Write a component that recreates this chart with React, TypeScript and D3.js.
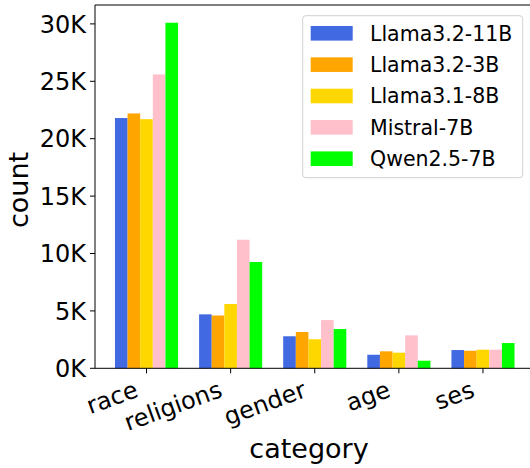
import React from "react";
import * as d3 from "d3";

const categories = ["race", "religions", "gender", "age", "ses"];
const seriesNames = ["Llama3.2-11B", "Llama3.2-3B", "Llama3.1-8B", "Mistral-7B", "Qwen2.5-7B"];
const seriesColors = ["#4169E1", "#FFA500", "#FFD700", "#FFC0CB", "#00FF00"];
const llama11b = [21800, 4700, 2790, 1180, 1590];
const llama3b = [22200, 4600, 3160, 1480, 1530];
const llama8b = [21700, 5600, 2530, 1360, 1620];
const mistral7b = [25600, 11200, 4200, 2870, 1620];
const qwen7b = [30100, 9260, 3420, 660, 2200];
const seriesValues = [llama11b, llama3b, llama8b, mistral7b, qwen7b];
const yTicks = [0, 5000, 10000, 15000, 20000, 25000, 30000];

const W = 530;
const H = 468;
const FONT = "DejaVu Sans, sans-serif";

export default function App() {
  const left = 95;
  const top = 5;
  const bottom = 368.3;
  const barW = 0.15;
  const x = d3.scaleLinear().domain([-0.6125, 4.6125]).range([left, 534.5]);
  const y = d3.scaleLinear().domain([0, 30000]).range([bottom, 23.9]);
  const fmt = (v: number) => `${d3.format("d")(v / 1000)}K`;

  return (
    <svg width={W} height={H} style={{ display: "block", position: "absolute", left: 0, top: 0 }} fontFamily={FONT}>
      <rect x={0} y={0} width={W} height={H} fill="#fff" />
      {seriesValues.map((vals, si) =>
        vals.map((v, ci) => {
          const cx = ci + (si - 2) * barW;
          const x0 = x(cx - barW / 2);
          const x1 = x(cx + barW / 2);
          return (
            <rect
              key={`${si}-${ci}`}
              x={x0}
              y={y(v)}
              width={x1 - x0}
              height={bottom - y(v)}
              fill={seriesColors[si]}
            />
          );
        })
      )}
      {/* spines */}
      <line x1={left} x2={left} y1={top} y2={bottom} stroke="#000" strokeWidth={1} />
      <line x1={left} x2={W + 10} y1={top} y2={top} stroke="#000" strokeWidth={1} />
      <line x1={left} x2={W + 10} y1={bottom} y2={bottom} stroke="#000" strokeWidth={1} />
      {/* y ticks */}
      {yTicks.map((t) => (
        <g key={t}>
          <line x1={left - 5} x2={left} y1={y(t)} y2={y(t)} stroke="#000" strokeWidth={1} />
          <text x={left - 9} y={y(t)} dy="0.36em" textAnchor="end" fontSize={24} fill="#000">
            {fmt(t)}
          </text>
        </g>
      ))}
      {/* x ticks */}
      {categories.map((c, i) => (
        <g key={c}>
          <line x1={x(i)} x2={x(i)} y1={bottom} y2={bottom + 5} stroke="#000" strokeWidth={1} />
          <text
            transform={`translate(${x(i) - 7},${bottom + 28}) rotate(-20)`}
            textAnchor="end"
            fontSize={24}
            fill="#000"
          >
            {c}
          </text>
        </g>
      ))}
      {/* axis labels */}
      <text x={309} y={458} textAnchor="middle" fontSize={27} fill="#000">
        category
      </text>
      <text transform={`translate(28,190) rotate(-90)`} textAnchor="middle" fontSize={27} fill="#000">
        count
      </text>
      {/* legend */}
      <rect x={302.7} y={15.7} width={220} height={162} rx={3} fill="#fff" fillOpacity={0.8} stroke="#d0d0d0" strokeWidth={1} />
      {seriesNames.map((n, i) => {
        const cy = 33.3 + i * 31.35;
        return (
          <g key={n}>
            <rect x={310.7} y={cy - 7.3} width={42} height={14.6} fill={seriesColors[i]} />
            <text x={370} y={cy} dy="0.36em" fontSize={20.5} fill="#000">
              {n}
            </text>
          </g>
        );
      })}
    </svg>
  );
}
